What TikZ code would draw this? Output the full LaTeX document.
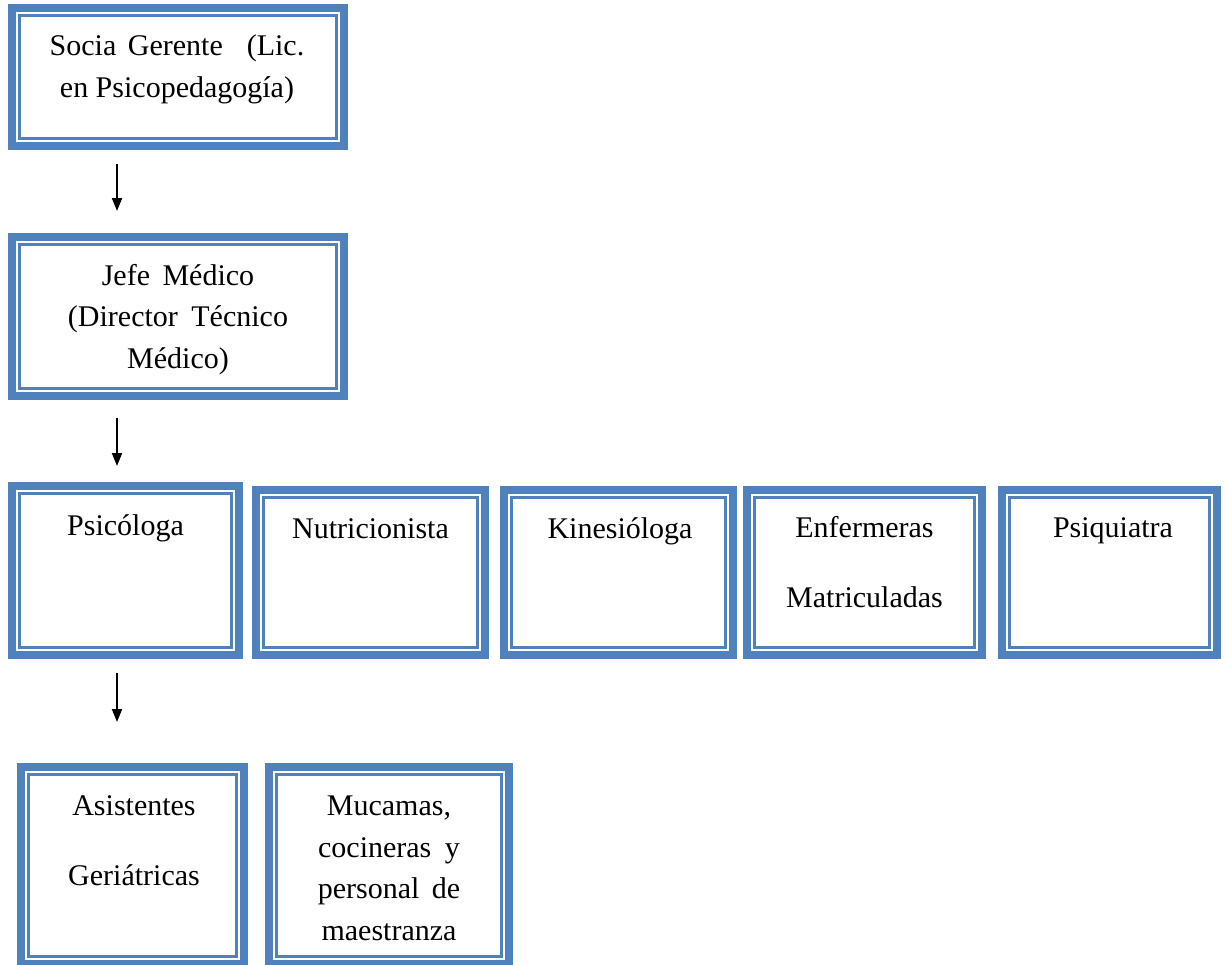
\documentclass[tikz,border=0pt]{standalone}
\usepackage{fontspec}
\setmainfont{Liberation Serif}
\usetikzlibrary{arrows.meta}
\definecolor{bl}{HTML}{4F81BD}
\newcommand\dfbox[4]{%
  \fill[bl] (#1,#2) rectangle (#3,#4);
  \fill[white] (#1+8,#2+8) rectangle (#3-8,#4-8);
  \draw[bl, line width=2.6] (#1+11.4,#2+11.4) rectangle (#3-11.4,#4-11.4);}
\begin{document}
\begin{tikzpicture}[x=1pt, y=-1pt,
  txt/.style={align=center, inner sep=0pt, anchor=base, font=\fontsize{30}{41.5}\selectfont},
  arr/.style={line width=2pt, -{Triangle[width=10pt,length=13pt]}}]
\useasboundingbox (0,0) rectangle (1226,964);
\clip (0,0) rectangle (1226,964);
% boxes
\dfbox{8}{4}{348}{150}
\dfbox{8}{233}{348}{400}
\dfbox{8}{482}{243}{659}
\dfbox{252}{486}{489}{659}
\dfbox{500}{486}{737}{659}
\dfbox{743}{486}{986}{659}
\dfbox{998}{486}{1221}{659}
\dfbox{17}{763}{248}{968}
\dfbox{265}{763}{513}{968}
% texts (anchor base = baseline of last line)
\node[txt] (t1) at (177,97) {Socia\hspace{4pt} Gerente\hspace{24pt}(Lic.\\en Psicopedagogía)};
\node[txt] (t2) at (178,368) {Jefe\hspace{5pt} Médico\\(Director\hspace{6pt} Técnico\\Médico)};
\node[txt] (t3) at (125.5,535) {Psicóloga};
\node[txt] (t4) at (370.5,538) {Nutricionista};
\node[txt] (t5) at (620,538) {Kinesióloga};
\node[txt, font=\fontsize{30}{70}\selectfont] (t6) at (864.5,607) {Enfermeras\\Matriculadas};
\node[txt] (t7) at (1113,537) {Psiquiatra};
\node[txt, font=\fontsize{30}{70}\selectfont] (t8) at (134,885) {Asistentes\\Geriátricas};
\node[txt] (t9) at (389,940) {Mucamas,\\cocineras\hspace{6pt} y\\personal\hspace{5pt} de\\maestranza};
% arrows
\coordinate (a1s) at (117,164); \coordinate (a1e) at (117,211);
\coordinate (a2s) at (117,418); \coordinate (a2e) at (117,466);
\coordinate (a3s) at (117,673); \coordinate (a3e) at (117,722);
\draw[arr] (a1s) -- (a1e);
\draw[arr] (a2s) -- (a2e);
\draw[arr] (a3s) -- (a3e);
\end{tikzpicture}
\end{document}
